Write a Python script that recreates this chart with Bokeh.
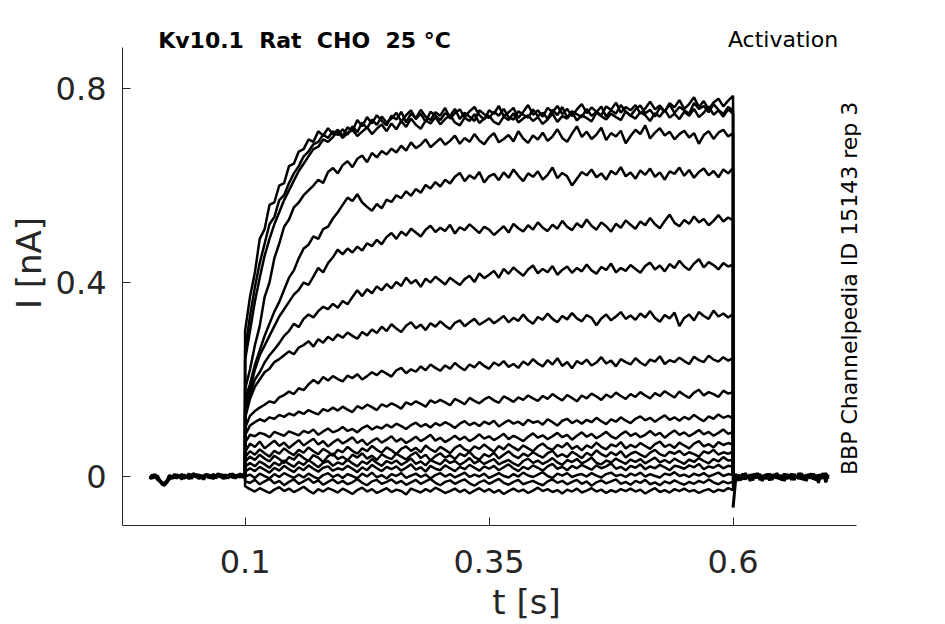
import numpy as np
from bokeh.plotting import figure
from bokeh.models import Range1d, FixedTicker, Label
from bokeh.embed import file_html
from bokeh.resources import INLINE

# ---------------- data ----------------
x_ticks = [0.1, 0.35, 0.6]
x_tick_labels = ["0.1", "0.35", "0.6"]
y_ticks = [0.0, 0.4, 0.8]
y_tick_labels = ["0", "0.4", "0.8"]

NB = "\u00a0"
title_text = NB.join(["Kv10.1", "", "Rat", "", "CHO", "", "25", "°C"])
protocol_text = "Activation"
source_text = "BBP Channelpedia ID 15143 rep 3"

# times (s)
t_pre = [0.0025 * (i + 1) for i in range(40)]          # 0.0025 .. 0.1
t_pulse = [0.1 + 0.005 * i for i in range(101)]        # 0.1 .. 0.6
t_post = [0.6 + 0.0025 * i for i in range(40)]          # 0.6 .. 0.6975

# holding baseline before the step (nA), two overlapping sweeps
pre_a = [0.002, -0.004, 0.005, -0.006, -0.01, -0.016, -0.018, -0.012, -0.005, 0.001,
         -0.003, 0.004, -0.002, 0.005, -0.004, 0.002, -0.005, 0.003, 0.006, -0.002,
         0.004, -0.004, 0.001, 0.005, -0.003, 0.003, -0.005, 0.002, 0.006, -0.002,
         0.004, -0.004, 0.002, 0.005, -0.003, 0.003, -0.001, 0.006, -0.002, 0.002]
pre_b = [-0.006, 0.004, -0.003, 0.002, -0.007, -0.013, -0.014, -0.008, 0.003, -0.005,
         0.005, -0.004, 0.003, -0.006, 0.004, -0.003, 0.006, -0.004, 0.001, 0.005,
         -0.005, 0.003, -0.006, 0.002, 0.004, -0.004, 0.005, -0.003, 0.001, 0.005,
         -0.005, 0.004, -0.003, 0.001, 0.006, -0.004, 0.004, -0.002, 0.005, -0.001]

# tail current after the step (nA)
post_a = [-0.064, -0.01, 0.004, -0.008, 0.006, -0.006, 0.003, -0.009, 0.005, -0.004,
          0.007, -0.007, 0.002, -0.005, 0.006, -0.008, 0.004, -0.003, 0.007, -0.006,
          0.003, -0.009, 0.005, -0.004, 0.006, -0.007, 0.002, -0.005, 0.007, -0.008,
          0.004, -0.003, 0.006, -0.006, 0.003, -0.013, 0.005, -0.004, 0.007, -0.005]
post_b = [-0.03, 0.006, -0.009, 0.003, -0.006, 0.007, -0.004, 0.004, -0.008, 0.006,
          -0.003, 0.005, -0.009, 0.004, -0.005, 0.006, -0.007, 0.005, -0.004, 0.003,
          -0.008, 0.006, -0.005, 0.004, -0.007, 0.005, -0.003, 0.007, -0.006, 0.003,
          -0.009, 0.005, -0.004, 0.006, -0.008, 0.004, -0.005, 0.007, -0.012, 0.004]

# currents during the step (nA), one list per sweep
sweep_01 = [0.30, 0.37, 0.42, 0.49, 0.51, 0.56, 0.565, 0.60, 0.605, 0.64,
            0.645, 0.67, 0.675, 0.695, 0.69, 0.712, 0.703, 0.718, 0.706, 0.715,
            0.702, 0.72, 0.712, 0.735, 0.722, 0.741, 0.728, 0.745, 0.733, 0.724,
            0.744, 0.736, 0.752, 0.73, 0.748, 0.739, 0.756, 0.742, 0.735, 0.751,
            0.744, 0.76, 0.738, 0.749, 0.757, 0.741, 0.753, 0.762, 0.745, 0.736,
            0.755, 0.748, 0.764, 0.743, 0.751, 0.76, 0.739, 0.752, 0.766, 0.746,
            0.755, 0.742, 0.76, 0.751, 0.764, 0.747, 0.758, 0.743, 0.757, 0.768,
            0.749, 0.761, 0.752, 0.745, 0.763, 0.756, 0.771, 0.75, 0.762, 0.755,
            0.766, 0.748, 0.759, 0.773, 0.757, 0.765, 0.752, 0.77, 0.761, 0.776,
            0.758, 0.768, 0.782, 0.762, 0.774, 0.757, 0.771, 0.779, 0.763, 0.775,
            0.785]
sweep_02 = [0.26, 0.33, 0.39, 0.44, 0.48, 0.52, 0.535, 0.57, 0.58, 0.605,
            0.625, 0.64, 0.66, 0.67, 0.685, 0.69, 0.705, 0.698, 0.712, 0.704,
            0.716, 0.705, 0.722, 0.71, 0.73, 0.718, 0.736, 0.725, 0.742, 0.73,
            0.738, 0.75, 0.732, 0.745, 0.755, 0.737, 0.748, 0.731, 0.752, 0.744,
            0.735, 0.749, 0.743, 0.758, 0.737, 0.75, 0.742, 0.733, 0.755, 0.747,
            0.739, 0.752, 0.744, 0.758, 0.741, 0.736, 0.753, 0.746, 0.74, 0.757,
            0.743, 0.75, 0.738, 0.756, 0.745, 0.762, 0.74, 0.753, 0.747, 0.741,
            0.758, 0.744, 0.751, 0.763, 0.742, 0.755, 0.748, 0.766, 0.752, 0.744,
            0.757, 0.765, 0.749, 0.756, 0.742, 0.761, 0.753, 0.767, 0.75, 0.762,
            0.755, 0.748, 0.77, 0.758, 0.764, 0.751, 0.768, 0.756, 0.747, 0.762,
            0.755]
sweep_03 = [0.24, 0.30, 0.36, 0.41, 0.455, 0.49, 0.52, 0.545, 0.57, 0.59,
            0.61, 0.63, 0.645, 0.66, 0.675, 0.68, 0.695, 0.69, 0.70, 0.712,
            0.698, 0.708, 0.715, 0.702, 0.711, 0.72, 0.706, 0.717, 0.726, 0.712,
            0.728, 0.716, 0.733, 0.721, 0.738, 0.725, 0.717, 0.734, 0.728, 0.741,
            0.726, 0.737, 0.745, 0.73, 0.724, 0.74, 0.733, 0.747, 0.729, 0.738,
            0.744, 0.731, 0.726, 0.742, 0.735, 0.749, 0.73, 0.738, 0.745, 0.733,
            0.741, 0.727, 0.736, 0.748, 0.731, 0.743, 0.738, 0.752, 0.734, 0.745,
            0.739, 0.732, 0.75, 0.743, 0.736, 0.748, 0.741, 0.735, 0.753, 0.744,
            0.738, 0.751, 0.745, 0.733, 0.749, 0.742, 0.756, 0.74, 0.748, 0.737,
            0.752, 0.744, 0.758, 0.741, 0.75, 0.763, 0.746, 0.755, 0.742, 0.757,
            0.748]
sweep_04 = [0.18, 0.22, 0.27, 0.31, 0.37, 0.40, 0.45, 0.48, 0.515, 0.53,
            0.555, 0.565, 0.58, 0.59, 0.60, 0.612, 0.605, 0.628, 0.636, 0.625,
            0.642, 0.65, 0.638, 0.655, 0.662, 0.648, 0.667, 0.658, 0.671, 0.664,
            0.676, 0.668, 0.682, 0.672, 0.689, 0.677, 0.684, 0.695, 0.679, 0.688,
            0.697, 0.684, 0.692, 0.703, 0.686, 0.698, 0.69, 0.706, 0.693, 0.685,
            0.699, 0.708, 0.689, 0.696, 0.704, 0.691, 0.712, 0.697, 0.688, 0.703,
            0.695, 0.709, 0.692, 0.701, 0.716, 0.698, 0.69, 0.707, 0.722, 0.7,
            0.711, 0.696, 0.705, 0.719, 0.694, 0.708, 0.701, 0.713, 0.687, 0.702,
            0.715, 0.706, 0.724, 0.697, 0.709, 0.718, 0.703, 0.711, 0.695, 0.706,
            0.713, 0.699, 0.708, 0.686, 0.704, 0.712, 0.696, 0.709, 0.715, 0.701,
            0.708]
sweep_05 = [0.16, 0.19, 0.23, 0.26, 0.29, 0.315, 0.34, 0.36, 0.385, 0.41,
            0.425, 0.45, 0.47, 0.478, 0.495, 0.49, 0.51, 0.515, 0.532, 0.545,
            0.56, 0.575, 0.568, 0.582, 0.565, 0.556, 0.548, 0.562, 0.553, 0.571,
            0.566, 0.58, 0.574, 0.588, 0.579, 0.593, 0.585, 0.601, 0.594, 0.607,
            0.598, 0.612, 0.604, 0.618, 0.626, 0.609, 0.621, 0.614, 0.628, 0.606,
            0.619, 0.624, 0.611, 0.627, 0.616, 0.633, 0.62, 0.609, 0.625, 0.618,
            0.629, 0.612, 0.622, 0.637, 0.615, 0.626, 0.619, 0.6, 0.614, 0.628,
            0.621, 0.633, 0.617, 0.625, 0.612, 0.63, 0.623, 0.638, 0.619, 0.627,
            0.614, 0.631, 0.622, 0.635, 0.618, 0.627, 0.612, 0.629, 0.624, 0.637,
            0.62, 0.632, 0.616, 0.628, 0.635, 0.621, 0.63, 0.617, 0.633, 0.625,
            0.636]
sweep_06 = [0.14, 0.18, 0.22, 0.25, 0.27, 0.29, 0.31, 0.33, 0.345, 0.36,
            0.375, 0.385, 0.40, 0.395, 0.412, 0.43, 0.421, 0.44, 0.452, 0.468,
            0.458, 0.47, 0.462, 0.474, 0.466, 0.481, 0.475, 0.488, 0.479, 0.494,
            0.502, 0.49, 0.505, 0.497, 0.511, 0.503, 0.495, 0.509, 0.517, 0.504,
            0.513, 0.506, 0.519, 0.501, 0.514, 0.508, 0.52, 0.511, 0.502, 0.515,
            0.509, 0.498, 0.507, 0.516, 0.503, 0.521, 0.512, 0.505, 0.518, 0.509,
            0.524, 0.513, 0.506, 0.519, 0.511, 0.527, 0.515, 0.508, 0.522, 0.514,
            0.53, 0.517, 0.509, 0.524, 0.516, 0.505, 0.521, 0.513, 0.528, 0.519,
            0.511, 0.526, 0.518, 0.533, 0.52, 0.512, 0.527, 0.54, 0.523, 0.516,
            0.529, 0.521, 0.536, 0.524, 0.531, 0.518, 0.527, 0.539, 0.526, 0.534,
            0.528]
sweep_07 = [0.13, 0.17, 0.2, 0.215, 0.235, 0.25, 0.262, 0.275, 0.29, 0.3,
            0.315, 0.308, 0.325, 0.334, 0.328, 0.341, 0.35, 0.345, 0.356, 0.348,
            0.362, 0.355, 0.37, 0.384, 0.372, 0.386, 0.378, 0.392, 0.384, 0.397,
            0.388, 0.401, 0.393, 0.41, 0.398, 0.405, 0.391, 0.408, 0.4, 0.412,
            0.404, 0.396, 0.41, 0.402, 0.395, 0.407, 0.414, 0.401, 0.419, 0.409,
            0.416, 0.424, 0.41, 0.428, 0.418, 0.431, 0.422, 0.414, 0.427, 0.435,
            0.419, 0.428, 0.421, 0.434, 0.416, 0.426, 0.433, 0.42, 0.43, 0.423,
            0.437, 0.425, 0.418, 0.432, 0.426, 0.439, 0.421, 0.43, 0.424, 0.436,
            0.428, 0.42, 0.434, 0.441, 0.427, 0.435, 0.423, 0.438, 0.43, 0.445,
            0.433, 0.426, 0.439, 0.448, 0.431, 0.442, 0.436, 0.427, 0.44, 0.433,
            0.437]
sweep_08 = [0.12, 0.16, 0.185, 0.2, 0.215, 0.222, 0.236, 0.242, 0.25, 0.258,
            0.252, 0.266, 0.271, 0.279, 0.268, 0.283, 0.276, 0.288, 0.281, 0.293,
            0.286, 0.297, 0.29, 0.284, 0.298, 0.291, 0.303, 0.296, 0.309, 0.3,
            0.314, 0.305, 0.298, 0.311, 0.318, 0.306, 0.313, 0.302, 0.316, 0.309,
            0.32, 0.311, 0.304, 0.317, 0.322, 0.31, 0.318, 0.325, 0.313, 0.319,
            0.326, 0.316, 0.323, 0.331, 0.318, 0.327, 0.321, 0.334, 0.322, 0.315,
            0.329, 0.323, 0.336, 0.325, 0.318, 0.331, 0.324, 0.337, 0.326, 0.32,
            0.333, 0.327, 0.312, 0.326, 0.334, 0.322, 0.33, 0.339, 0.325, 0.332,
            0.323, 0.336, 0.328, 0.341, 0.327, 0.319, 0.333, 0.326, 0.338, 0.31,
            0.327, 0.334, 0.322, 0.339, 0.331, 0.325, 0.342, 0.33, 0.336, 0.328,
            0.335]
sweep_09 = [0.1, 0.125, 0.135, 0.142, 0.148, 0.155, 0.152, 0.163, 0.168, 0.175,
            0.17, 0.182, 0.178, 0.19, 0.199, 0.192, 0.205, 0.198, 0.207, 0.201,
            0.196, 0.208, 0.203, 0.211, 0.2, 0.207, 0.215, 0.209, 0.218, 0.212,
            0.206, 0.219, 0.224, 0.213, 0.221, 0.216, 0.227, 0.219, 0.231, 0.224,
            0.218, 0.229, 0.222, 0.234, 0.226, 0.219, 0.231, 0.225, 0.236, 0.228,
            0.222, 0.235, 0.229, 0.238, 0.226, 0.232, 0.224, 0.237, 0.23, 0.242,
            0.233, 0.227, 0.24, 0.231, 0.244, 0.228, 0.236, 0.223, 0.238, 0.232,
            0.241, 0.229, 0.235, 0.246, 0.233, 0.239, 0.227, 0.242, 0.236, 0.231,
            0.244, 0.235, 0.229, 0.241, 0.237, 0.248, 0.232, 0.24, 0.236, 0.245,
            0.238, 0.232, 0.247, 0.24, 0.236, 0.249, 0.241, 0.237, 0.246, 0.239,
            0.244]
sweep_10 = [0.085, 0.105, 0.112, 0.118, 0.114, 0.122, 0.119, 0.127, 0.123, 0.13,
            0.126, 0.134, 0.129, 0.137, 0.132, 0.128, 0.139, 0.135, 0.142, 0.136,
            0.144, 0.138, 0.133, 0.145, 0.14, 0.148, 0.143, 0.137, 0.149, 0.144,
            0.151, 0.146, 0.14, 0.153, 0.148, 0.155, 0.15, 0.144, 0.157, 0.152,
            0.158, 0.153, 0.147, 0.16, 0.155, 0.149, 0.162, 0.156, 0.151, 0.159,
            0.164, 0.157, 0.152, 0.165, 0.16, 0.154, 0.163, 0.158, 0.167, 0.161,
            0.156, 0.166, 0.16, 0.17, 0.163, 0.157, 0.168, 0.162, 0.155, 0.167,
            0.161, 0.171, 0.165, 0.158, 0.169, 0.163, 0.173, 0.166, 0.16, 0.17,
            0.164, 0.174, 0.167, 0.161, 0.172, 0.166, 0.176, 0.169, 0.163, 0.175,
            0.168, 0.162, 0.173, 0.179, 0.167, 0.174, 0.17, 0.164, 0.177, 0.171,
            0.174]
sweep_11 = [0.07, 0.086, 0.083, 0.09, 0.087, 0.081, 0.092, 0.088, 0.084, 0.093,
            0.089, 0.085, 0.094, 0.09, 0.097, 0.086, 0.093, 0.099, 0.091, 0.095,
            0.102, 0.094, 0.098, 0.091, 0.1, 0.105, 0.097, 0.103, 0.099, 0.107,
            0.101, 0.109, 0.104, 0.098, 0.106, 0.111, 0.103, 0.108, 0.101, 0.11,
            0.105, 0.112, 0.107, 0.1, 0.109, 0.114, 0.106, 0.111, 0.104, 0.113,
            0.108, 0.115, 0.103, 0.11, 0.116, 0.109, 0.113, 0.106, 0.117, 0.111,
            0.114, 0.107, 0.118, 0.112, 0.105, 0.115, 0.119, 0.11, 0.116, 0.109,
            0.117, 0.112, 0.121, 0.114, 0.108, 0.118, 0.113, 0.122, 0.115, 0.11,
            0.119, 0.124, 0.116, 0.121, 0.113, 0.12, 0.126, 0.117, 0.122, 0.115,
            0.123, 0.118, 0.127, 0.12, 0.114, 0.124, 0.119, 0.128, 0.121, 0.125,
            0.12]
sweep_12 = [0.05, 0.068, 0.061, 0.072, 0.058, 0.066, 0.074, 0.063, 0.07, 0.059,
            0.067, 0.075, 0.064, 0.071, 0.078, 0.066, 0.073, 0.062, 0.07, 0.077,
            0.068, 0.074, 0.081, 0.069, 0.076, 0.065, 0.073, 0.079, 0.07, 0.076,
            0.083, 0.072, 0.078, 0.069, 0.075, 0.082, 0.073, 0.079, 0.086, 0.074,
            0.08, 0.071, 0.077, 0.084, 0.076, 0.082, 0.073, 0.079, 0.087, 0.078,
            0.083, 0.075, 0.081, 0.088, 0.077, 0.084, 0.079, 0.073, 0.082, 0.089,
            0.08, 0.085, 0.077, 0.083, 0.09, 0.081, 0.086, 0.076, 0.084, 0.091,
            0.082, 0.088, 0.079, 0.085, 0.092, 0.083, 0.078, 0.087, 0.093, 0.084,
            0.089, 0.081, 0.086, 0.094, 0.085, 0.09, 0.08, 0.088, 0.095, 0.086,
            0.091, 0.083, 0.089, 0.096, 0.087, 0.092, 0.084, 0.09, 0.097, 0.088,
            0.092]
sweep_13 = [0.04, 0.052, 0.045, 0.056, 0.048, 0.041, 0.053, 0.047, 0.058, 0.05,
            0.044, 0.055, 0.049, 0.06, 0.052, 0.046, 0.057, 0.051, 0.043, 0.055,
            0.05, 0.061, 0.053, 0.047, 0.058, 0.052, 0.063, 0.055, 0.049, 0.06,
            0.054, 0.046, 0.057, 0.062, 0.053, 0.059, 0.05, 0.064, 0.056, 0.051,
            0.061, 0.055, 0.048, 0.059, 0.065, 0.056, 0.052, 0.062, 0.057, 0.066,
            0.058, 0.051, 0.063, 0.056, 0.067, 0.06, 0.054, 0.064, 0.058, 0.052,
            0.062, 0.068, 0.059, 0.055, 0.065, 0.06, 0.069, 0.057, 0.063, 0.054,
            0.064, 0.059, 0.07, 0.061, 0.056, 0.066, 0.062, 0.071, 0.058, 0.065,
            0.06, 0.069, 0.063, 0.057, 0.067, 0.072, 0.061, 0.066, 0.059, 0.07,
            0.064, 0.058, 0.068, 0.073, 0.062, 0.067, 0.06, 0.071, 0.065, 0.069,
            0.066]
sweep_14 = [0.03, 0.041, 0.034, 0.045, 0.037, 0.031, 0.043, 0.036, 0.028, 0.04,
            0.035, 0.046, 0.038, 0.032, 0.044, 0.039, 0.03, 0.042, 0.047, 0.036,
            0.041, 0.033, 0.045, 0.039, 0.048, 0.037, 0.043, 0.034, 0.046, 0.04,
            0.036, 0.047, 0.041, 0.035, 0.044, 0.05, 0.038, 0.045, 0.033, 0.042,
            0.048, 0.039, 0.044, 0.036, 0.047, 0.042, 0.051, 0.04, 0.035, 0.046,
            0.041, 0.049, 0.037, 0.045, 0.052, 0.043, 0.038, 0.047, 0.042, 0.05,
            0.044, 0.039, 0.048, 0.053, 0.041, 0.046, 0.04, 0.051, 0.045, 0.038,
            0.049, 0.043, 0.054, 0.046, 0.041, 0.05, 0.044, 0.052, 0.039, 0.047,
            0.051, 0.045, 0.04, 0.049, 0.055, 0.046, 0.042, 0.051, 0.047, 0.053,
            0.044, 0.05, 0.046, 0.041, 0.052, 0.048, 0.055, 0.045, 0.05, 0.047,
            0.051]
sweep_15 = [0.02, 0.028, 0.021, 0.031, 0.025, 0.018, 0.029, 0.023, 0.033, 0.026,
            0.02, 0.03, 0.024, 0.034, 0.027, 0.019, 0.028, 0.032, 0.022, 0.029,
            0.025, 0.035, 0.027, 0.021, 0.031, 0.026, 0.036, 0.028, 0.022, 0.032,
            0.027, 0.033, 0.024, 0.03, 0.037, 0.026, 0.031, 0.023, 0.034, 0.029,
            0.025, 0.035, 0.028, 0.032, 0.024, 0.03, 0.038, 0.027, 0.033, 0.026,
            0.031, 0.036, 0.025, 0.03, 0.034, 0.027, 0.022, 0.032, 0.037, 0.028,
            0.033, 0.026, 0.031, 0.038, 0.029, 0.024, 0.034, 0.03, 0.036, 0.027,
            0.032, 0.039, 0.028, 0.025, 0.033, 0.029, 0.037, 0.031, 0.026, 0.035,
            0.03, 0.036, 0.027, 0.033, 0.039, 0.029, 0.034, 0.028, 0.037, 0.031,
            0.026, 0.035, 0.03, 0.038, 0.032, 0.027, 0.036, 0.031, 0.04, 0.033,
            0.034]
sweep_16 = [0.01, 0.017, 0.011, 0.02, 0.014, 0.008, 0.018, 0.012, 0.022, 0.015,
            0.009, 0.019, 0.013, 0.023, 0.016, 0.01, 0.018, 0.021, 0.012, 0.017,
            0.014, 0.022, 0.016, 0.009, 0.019, 0.013, 0.024, 0.017, 0.011, 0.02,
            0.015, 0.021, 0.012, 0.018, 0.025, 0.014, 0.019, 0.01, 0.022, 0.016,
            0.013, 0.023, 0.017, 0.011, 0.02, 0.015, 0.024, 0.018, 0.012, 0.021,
            0.016, 0.022, 0.013, 0.019, 0.025, 0.017, 0.011, 0.02, 0.015, 0.023,
            0.018, 0.012, 0.021, 0.026, 0.016, 0.02, 0.013, 0.022, 0.017, 0.024,
            0.019, 0.014, 0.023, 0.017, 0.021, 0.027, 0.016, 0.02, 0.013, 0.022,
            0.018, 0.025, 0.015, 0.021, 0.017, 0.024, 0.019, 0.013, 0.022, 0.02,
            0.016, 0.023, 0.019, 0.026, 0.015, 0.021, 0.018, 0.024, 0.017, 0.022,
            0.02]
sweep_17 = [0.0, 0.004, -0.003, 0.006, 0.001, -0.004, 0.005, -0.001, 0.007, 0.002,
            -0.003, 0.004, -0.002, 0.006, 0.0, -0.005, 0.003, 0.007, -0.001, 0.004,
            -0.003, 0.005, 0.001, -0.004, 0.006, 0.0, 0.008, -0.002, 0.003, -0.004,
            0.005, 0.001, 0.007, -0.003, 0.002, 0.006, -0.001, 0.004, -0.004, 0.003,
            0.007, 0.0, 0.005, -0.002, 0.003, 0.008, -0.001, 0.004, 0.0, 0.006,
            -0.003, 0.002, 0.007, 0.001, -0.002, 0.005, 0.0, 0.008, 0.002, -0.001,
            0.004, 0.009, 0.001, -0.003, 0.006, 0.002, 0.007, -0.001, 0.003, 0.005,
            0.0, 0.007, 0.002, -0.002, 0.005, 0.008, 0.001, 0.004, -0.001, 0.006,
            0.002, 0.008, 0.0, 0.005, 0.001, -0.002, 0.006, 0.003, 0.009, 0.001,
            0.004, -0.001, 0.006, 0.002, 0.007, 0.0, 0.004, 0.008, 0.001, 0.005,
            0.003]
sweep_18 = [-0.01, -0.013, -0.007, -0.016, -0.01, -0.005, -0.014, -0.009, -0.018, -0.011,
            -0.006, -0.015, -0.01, -0.004, -0.013, -0.008, -0.017, -0.011, -0.006, -0.014,
            -0.009, -0.016, -0.012, -0.005, -0.013, -0.018, -0.01, -0.007, -0.015, -0.011,
            -0.006, -0.014, -0.009, -0.017, -0.012, -0.007, -0.015, -0.01, -0.005, -0.013,
            -0.018, -0.011, -0.008, -0.015, -0.01, -0.006, -0.014, -0.019, -0.012, -0.008,
            -0.015, -0.01, -0.005, -0.013, -0.017, -0.011, -0.007, -0.016, -0.012, -0.009,
            -0.014, -0.018, -0.01, -0.006, -0.013, -0.009, -0.016, -0.011, -0.007, -0.015,
            -0.01, -0.019, -0.012, -0.008, -0.014, -0.01, -0.006, -0.015, -0.011, -0.017,
            -0.009, -0.013, -0.007, -0.016, -0.012, -0.018, -0.01, -0.014, -0.008, -0.013,
            -0.017, -0.011, -0.015, -0.009, -0.013, -0.006, -0.012, -0.016, -0.01, -0.014,
            -0.011]
sweep_19 = [-0.02, -0.026, -0.031, -0.024, -0.029, -0.034, -0.027, -0.022, -0.03, -0.025,
            -0.032, -0.027, -0.021, -0.029, -0.035, -0.026, -0.031, -0.024, -0.028, -0.033,
            -0.025, -0.03, -0.036, -0.028, -0.023, -0.031, -0.026, -0.034, -0.029, -0.024,
            -0.032, -0.027, -0.03, -0.037, -0.025, -0.029, -0.033, -0.026, -0.031, -0.023,
            -0.028, -0.034, -0.03, -0.025, -0.032, -0.027, -0.035, -0.029, -0.024, -0.031,
            -0.026, -0.033, -0.028, -0.036, -0.03, -0.025, -0.031, -0.027, -0.034, -0.029,
            -0.023, -0.03, -0.026, -0.032, -0.028, -0.035, -0.027, -0.031, -0.025, -0.033,
            -0.029, -0.024, -0.031, -0.027, -0.034, -0.028, -0.032, -0.026, -0.03, -0.025,
            -0.031, -0.027, -0.035, -0.029, -0.024, -0.032, -0.028, -0.033, -0.026, -0.03,
            -0.025, -0.031, -0.028, -0.034, -0.029, -0.026, -0.032, -0.027, -0.03, -0.024,
            -0.028]

sweeps = [sweep_01, sweep_02, sweep_03, sweep_04, sweep_05, sweep_06, sweep_07,
          sweep_08, sweep_09, sweep_10, sweep_11, sweep_12, sweep_13, sweep_14,
          sweep_15, sweep_16, sweep_17, sweep_18, sweep_19]

# axis extents drawn (the visible axis lines)
x_axis_span = (-0.0256, 0.726)
y_axis_span = (-0.101, 0.885)

# ---------------- figure ----------------
FONT = "DejaVu Sans"
AX = "#262626"

p = figure(frame_width=808, frame_height=525, output_backend="svg",
           toolbar_location=None,
           x_range=Range1d(x_axis_span[0], 0.8023),
           y_range=Range1d(y_axis_span[0], 0.98147),
           min_border_left=122, min_border_right=7, min_border_top=0,
           min_border_bottom=99)
p.outline_line_color = None
p.grid.visible = False
p.background_fill_color = "white"
p.border_fill_color = "white"

for ax in (p.xaxis[0], p.yaxis[0]):
    ax.axis_line_color = AX
    ax.axis_line_width = 1
    ax.major_tick_line_color = AX
    ax.major_tick_in = 8
    ax.major_tick_out = 0
    ax.minor_tick_line_color = None
    ax.major_label_text_font = FONT
    ax.major_label_text_font_size = "32px"
    ax.major_label_text_color = AX
    ax.axis_label_text_font = FONT
    ax.axis_label_text_font_size = "34px"
    ax.axis_label_text_font_style = "normal"
    ax.axis_label_text_color = AX

p.xaxis.bounds = x_axis_span
p.yaxis.bounds = y_axis_span
p.xaxis.ticker = FixedTicker(ticks=x_ticks)
p.xaxis.major_label_overrides = {t: s for t, s in zip(x_ticks, x_tick_labels)}
p.yaxis.ticker = FixedTicker(ticks=y_ticks)
p.yaxis.major_label_overrides = {t: s for t, s in zip(y_ticks, y_tick_labels)}
p.xaxis.axis_label = "t [s]"
p.yaxis.axis_label = "I [nA]"
p.xaxis.major_label_standoff = 24
p.xaxis.axis_label_standoff = 6
p.yaxis.major_label_standoff = 16
p.yaxis.axis_label_standoff = 4

# baseline before and after the step
p.line(t_pre, pre_a, line_color="black", line_width=3)
p.line(t_pre, pre_b, line_color="black", line_width=3)
p.line(t_post, post_a, line_color="black", line_width=3)
p.line(t_post, post_b, line_color="black", line_width=3)

# sweeps: step on at 0.1 s, step off at 0.6 s
for s in sweeps:
    xs = [t_pulse[0]] + t_pulse + [t_pulse[-1]]
    ys = [pre_a[-1]] + s + [post_b[1]]
    p.line(xs, ys, line_color="black", line_width=2.5)

p.add_layout(Label(x=0.011, y=0.900, text=title_text, text_font=FONT,
                   text_font_size="22px", text_font_style="bold",
                   text_color="black", text_baseline="middle"))
p.add_layout(Label(x=0.7076, y=0.901, text=protocol_text, text_font=FONT,
                   text_font_size="22px", text_color="black",
                   text_align="right", text_baseline="middle"))
p.add_layout(Label(x=0.7189, y=0.003, text=source_text, text_font=FONT,
                   text_font_size="22px", text_color="black", angle=np.pi / 2,
                   text_align="left", text_baseline="middle"))

open("out.html", "w").write(file_html(p, INLINE))
